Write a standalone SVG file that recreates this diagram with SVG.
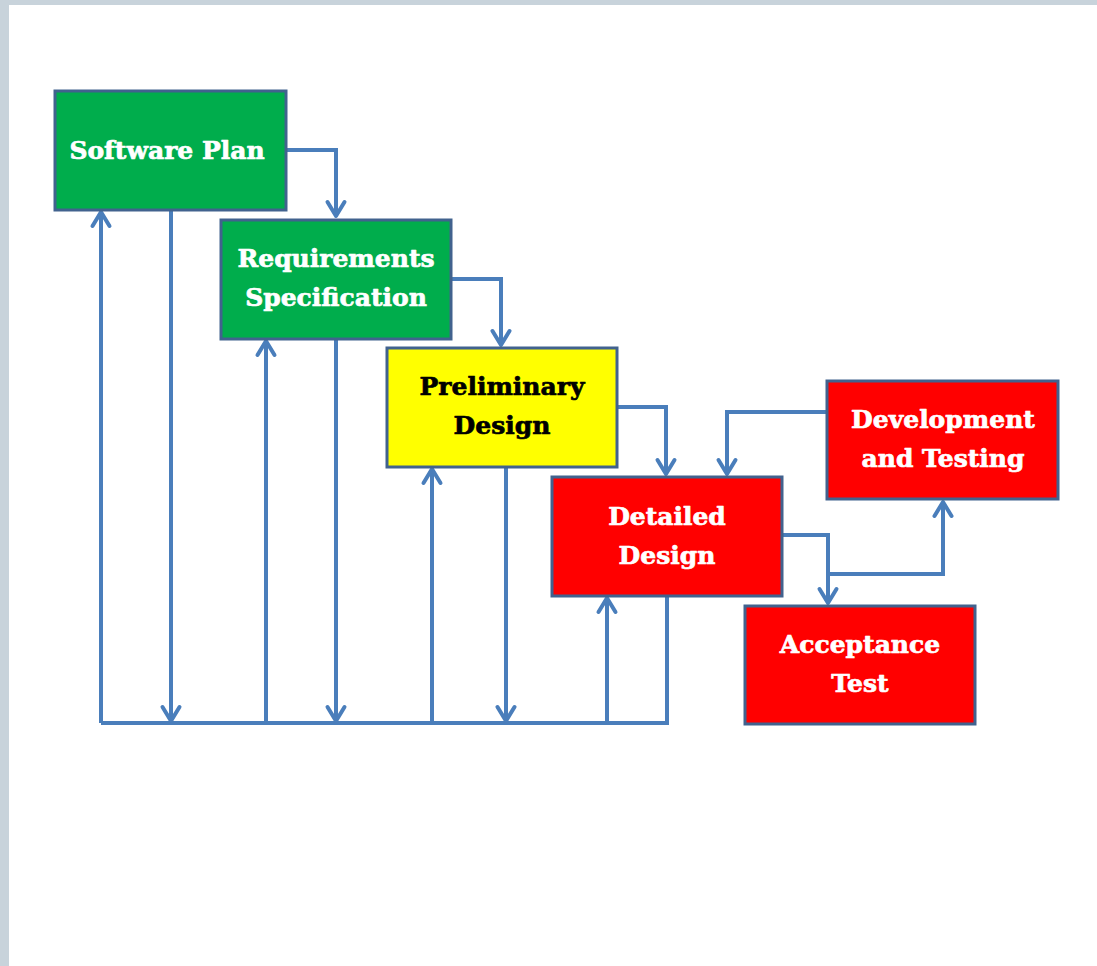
<svg xmlns="http://www.w3.org/2000/svg" width="1097" height="966" viewBox="0 0 1097 966">
<defs>
<marker id="ah" markerWidth="22" markerHeight="26" viewBox="-18 -13 22 26" refX="0" refY="0" orient="auto" markerUnits="userSpaceOnUse">
<path d="M-14,-8.5 L0,0 L-14,8.5" fill="none" stroke="#4a7ebb" stroke-width="4" stroke-linecap="round" stroke-linejoin="round"/>
</marker>
<style>
.box{stroke:#41628e;stroke-width:3}
.g{fill:#00ad4c}.y{fill:#ffff00}.r{fill:#ff0000}
.t{font-family:"DejaVu Serif","Liberation Serif",serif;font-weight:bold;font-size:25px;text-anchor:middle;stroke-width:0.7px;stroke-linejoin:round}
.w{fill:#ffffff;stroke:#ffffff}.k{fill:#000000;stroke:#000000}
.c{fill:none;stroke:#4a7ebb;stroke-width:4;stroke-linejoin:miter}
.a{marker-end:url(#ah)}
</style>
</defs>
<rect x="0" y="0" width="1097" height="966" fill="#c8d3db"/>
<rect x="9" y="5" width="1088" height="961" fill="#ffffff"/>
<g id="connectors">
<path class="c a" d="M286,150 H336 V216"/>
<path class="c a" d="M451,279 H501 V345"/>
<path class="c a" d="M617,407 H666 V474"/>
<path class="c a" d="M827,412 H727 V474"/>
<path class="c a" d="M782,535 H828 V603"/>
<path class="c a" d="M828,574 H943 V502"/>
<path class="c" d="M101,723 H667 V596"/>
<path class="c a" d="M101,723 V212"/>
<path class="c a" d="M171,210 V721"/>
<path class="c a" d="M266,723 V341"/>
<path class="c a" d="M336,339 V721"/>
<path class="c a" d="M432,723 V469"/>
<path class="c a" d="M506,467 V721"/>
<path class="c a" d="M607,723 V598"/>
</g>
<g id="software-plan">
<rect class="box g" x="55" y="91" width="231" height="119"/>
<text class="t w" x="167" y="159">Software Plan</text>
</g>
<g id="requirements-specification">
<rect class="box g" x="221" y="220" width="230" height="119"/>
<text class="t w" x="336" y="267">Requirements</text>
<text class="t w" x="336" y="306">Specification</text>
</g>
<g id="preliminary-design">
<rect class="box y" x="387" y="348" width="230" height="119"/>
<text class="t k" x="502" y="395">Preliminary</text>
<text class="t k" x="502" y="434">Design</text>
</g>
<g id="detailed-design">
<rect class="box r" x="552" y="477" width="230" height="119"/>
<text class="t w" x="667" y="525">Detailed</text>
<text class="t w" x="667" y="564">Design</text>
</g>
<g id="development-testing">
<rect class="box r" x="827" y="381" width="231" height="118"/>
<text class="t w" x="943" y="428">Development</text>
<text class="t w" x="943" y="467">and Testing</text>
</g>
<g id="acceptance-test">
<rect class="box r" x="745" y="606" width="230" height="118"/>
<text class="t w" x="860" y="653">Acceptance</text>
<text class="t w" x="860" y="692">Test</text>
</g>
</svg>
